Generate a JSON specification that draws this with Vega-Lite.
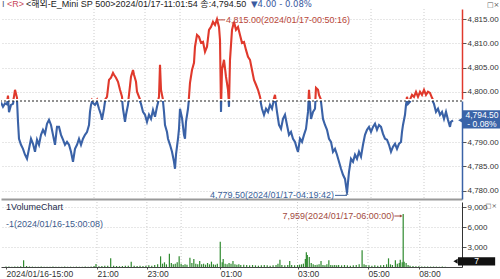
{
"$schema":"https://vega.github.io/schema/vega-lite/v6.json",
"padding":0,
"background":"white",
"spacing":0,
"config":{"view":{"stroke":null},"font":"Liberation Sans","axis":{"labelFont":"Liberation Sans","labelFontSize":8,"labelColor":"#333","labelOverlap":false}},
"datasets":{
"one":[{}],
"price":[{"n":0,"p":4798.2},{"n":2,"p":4797.3},{"n":4,"p":4798.0},{"n":6,"p":4797.8},{"n":7,"p":4799.2},{"n":8,"p":4796.2},{"n":10,"p":4797.7},{"n":12,"p":4797.9},{"n":13,"p":4799.0},{"n":14,"p":4800.4},{"n":16,"p":4798.75},{"n":17,"p":4794.2},{"n":18,"p":4790.7},{"n":20,"p":4789.45},{"n":22,"p":4788.6},{"n":24,"p":4787.4},{"n":26,"p":4786.55},{"n":28,"p":4788.6},{"n":30,"p":4790.7},{"n":32,"p":4789.65},{"n":34,"p":4788.0},{"n":36,"p":4790.5},{"n":38,"p":4789.45},{"n":40,"p":4791.5},{"n":42,"p":4792.55},{"n":44,"p":4791.7},{"n":46,"p":4793.8},{"n":48,"p":4794.6},{"n":50,"p":4793.55},{"n":52,"p":4791.5},{"n":54,"p":4789.45},{"n":56,"p":4793.15},{"n":58,"p":4793.15},{"n":60,"p":4791.5},{"n":62,"p":4790.5},{"n":64,"p":4789.45},{"n":66,"p":4790.05},{"n":68,"p":4789.45},{"n":70,"p":4788.0},{"n":72,"p":4785.95},{"n":74,"p":4788.6},{"n":76,"p":4789.45},{"n":78,"p":4790.7},{"n":80,"p":4789.45},{"n":82,"p":4790.7},{"n":84,"p":4791.5},{"n":86,"p":4792.1},{"n":88,"p":4793.55},{"n":89,"p":4796.25},{"n":90,"p":4797.7},{"n":91,"p":4798.35},{"n":93,"p":4797.9},{"n":94,"p":4797.7},{"n":96,"p":4798.35},{"n":98,"p":4796.9},{"n":100,"p":4795.65},{"n":101,"p":4794.6},{"n":103,"p":4796.9},{"n":104,"p":4798.35},{"n":106,"p":4798.95},{"n":108,"p":4802.45},{"n":110,"p":4802.9},{"n":112,"p":4803.9},{"n":113,"p":4803.5},{"n":115,"p":4802.9},{"n":117,"p":4802.05},{"n":119,"p":4800.4},{"n":121,"p":4798.95},{"n":122,"p":4796.9},{"n":124,"p":4794.2},{"n":125,"p":4795.65},{"n":127,"p":4797.7},{"n":128,"p":4799.35},{"n":130,"p":4803.1},{"n":132,"p":4804.5},{"n":133,"p":4803.5},{"n":135,"p":4802.05},{"n":136,"p":4800.0},{"n":138,"p":4798.95},{"n":140,"p":4797.9},{"n":142,"p":4796.25},{"n":144,"p":4795.65},{"n":146,"p":4794.2},{"n":148,"p":4795.65},{"n":150,"p":4794.8},{"n":152,"p":4796.65},{"n":154,"p":4795.25},{"n":156,"p":4797.3},{"n":158,"p":4798.95},{"n":159,"p":4805.55},{"n":160,"p":4800.4},{"n":161,"p":4799.35},{"n":162,"p":4798.35},{"n":163,"p":4796.25},{"n":164,"p":4793.55},{"n":166,"p":4792.1},{"n":167,"p":4790.7},{"n":169,"p":4789.45},{"n":171,"p":4788.0},{"n":173,"p":4785.95},{"n":174,"p":4784.5},{"n":175,"p":4787.4},{"n":177,"p":4790.7},{"n":178,"p":4792.75},{"n":179,"p":4796.9},{"n":181,"p":4795.0},{"n":183,"p":4791.5},{"n":184,"p":4790.7},{"n":185,"p":4794.2},{"n":187,"p":4796.9},{"n":188,"p":4798.95},{"n":189,"p":4801.85},{"n":191,"p":4804.5},{"n":193,"p":4806.0},{"n":194,"p":4809.3},{"n":196,"p":4811.75},{"n":198,"p":4811.35},{"n":200,"p":4810.1},{"n":202,"p":4810.3},{"n":204,"p":4808.25},{"n":206,"p":4809.3},{"n":208,"p":4812.8},{"n":210,"p":4813.4},{"n":212,"p":4814.44},{"n":214,"p":4813.8},{"n":216,"p":4815.0},{"n":218,"p":4813.4},{"n":219,"p":4810.7},{"n":220,"p":4796.25},{"n":221,"p":4804.5},{"n":223,"p":4806.6},{"n":225,"p":4803.1},{"n":227,"p":4800.4},{"n":228,"p":4797.3},{"n":229,"p":4806.6},{"n":231,"p":4812.8},{"n":233,"p":4814.44},{"n":235,"p":4812.8},{"n":237,"p":4813.4},{"n":239,"p":4811.75},{"n":241,"p":4810.1},{"n":243,"p":4810.3},{"n":245,"p":4808.65},{"n":247,"p":4807.2},{"n":249,"p":4806.6},{"n":251,"p":4804.5},{"n":253,"p":4802.45},{"n":255,"p":4801.45},{"n":257,"p":4800.4},{"n":259,"p":4798.95},{"n":261,"p":4796.9},{"n":263,"p":4795.65},{"n":265,"p":4796.9},{"n":267,"p":4796.25},{"n":269,"p":4797.7},{"n":271,"p":4796.9},{"n":272,"p":4797.9},{"n":274,"p":4799.35},{"n":276,"p":4796.25},{"n":278,"p":4793.55},{"n":280,"p":4792.75},{"n":282,"p":4794.8},{"n":284,"p":4795.65},{"n":286,"p":4793.55},{"n":288,"p":4791.5},{"n":290,"p":4792.1},{"n":292,"p":4790.7},{"n":294,"p":4790.05},{"n":296,"p":4788.6},{"n":297,"p":4788.0},{"n":299,"p":4790.7},{"n":301,"p":4790.05},{"n":303,"p":4791.5},{"n":305,"p":4792.75},{"n":307,"p":4796.25},{"n":308,"p":4800.4},{"n":309,"p":4797.7},{"n":310,"p":4794.8},{"n":312,"p":4796.25},{"n":314,"p":4796.9},{"n":315,"p":4800.8},{"n":317,"p":4800.4},{"n":318,"p":4799.35},{"n":320,"p":4798.35},{"n":322,"p":4794.8},{"n":324,"p":4793.55},{"n":326,"p":4792.55},{"n":328,"p":4790.7},{"n":330,"p":4790.05},{"n":332,"p":4788.0},{"n":334,"p":4788.6},{"n":336,"p":4787.4},{"n":338,"p":4785.95},{"n":340,"p":4784.5},{"n":342,"p":4783.25},{"n":344,"p":4782.4},{"n":346,"p":4779.5},{"n":348,"p":4783.85},{"n":350,"p":4786.55},{"n":352,"p":4785.95},{"n":354,"p":4787.4},{"n":356,"p":4786.55},{"n":358,"p":4788.0},{"n":360,"p":4787.0},{"n":362,"p":4789.45},{"n":364,"p":4791.5},{"n":366,"p":4792.55},{"n":368,"p":4793.15},{"n":370,"p":4792.1},{"n":372,"p":4793.15},{"n":374,"p":4793.8},{"n":376,"p":4792.55},{"n":378,"p":4793.55},{"n":380,"p":4793.15},{"n":382,"p":4791.7},{"n":384,"p":4790.7},{"n":386,"p":4790.5},{"n":388,"p":4789.45},{"n":390,"p":4788.0},{"n":392,"p":4789.05},{"n":394,"p":4789.65},{"n":396,"p":4788.6},{"n":398,"p":4789.65},{"n":400,"p":4790.05},{"n":401,"p":4792.1},{"n":402,"p":4793.55},{"n":404,"p":4795.65},{"n":405,"p":4797.7},{"n":406,"p":4798.95},{"n":407,"p":4797.9},{"n":409,"p":4798.35},{"n":411,"p":4799.35},{"n":413,"p":4798.95},{"n":415,"p":4800.0},{"n":417,"p":4798.95},{"n":419,"p":4800.0},{"n":421,"p":4799.35},{"n":423,"p":4800.4},{"n":425,"p":4799.35},{"n":427,"p":4800.0},{"n":429,"p":4799.75},{"n":431,"p":4798.75},{"n":433,"p":4797.9},{"n":435,"p":4796.25},{"n":437,"p":4796.9},{"n":439,"p":4795.65},{"n":441,"p":4796.25},{"n":443,"p":4794.8},{"n":445,"p":4796.25},{"n":447,"p":4794.6},{"n":449,"p":4793.15},{"n":450,"p":4794.2},{"n":452,"p":4794.5}],
"vol":[{"n":0,"v":80},{"n":3,"v":60},{"n":6,"v":50},{"n":9,"v":70},{"n":12,"v":90},{"n":15,"v":120},{"n":18,"v":1000},{"n":21,"v":150},{"n":24,"v":80},{"n":27,"v":60},{"n":30,"v":50},{"n":33,"v":40},{"n":36,"v":60},{"n":39,"v":50},{"n":42,"v":40},{"n":45,"v":50},{"n":48,"v":60},{"n":51,"v":40},{"n":54,"v":50},{"n":57,"v":40},{"n":60,"v":60},{"n":63,"v":40},{"n":66,"v":50},{"n":69,"v":40},{"n":72,"v":60},{"n":75,"v":50},{"n":78,"v":40},{"n":81,"v":60},{"n":84,"v":50},{"n":87,"v":80},{"n":90,"v":150},{"n":92,"v":450},{"n":95,"v":120},{"n":98,"v":150},{"n":101,"v":200},{"n":104,"v":180},{"n":107,"v":1300},{"n":110,"v":200},{"n":113,"v":150},{"n":116,"v":120},{"n":119,"v":150},{"n":122,"v":180},{"n":125,"v":200},{"n":128,"v":800},{"n":131,"v":200},{"n":134,"v":150},{"n":137,"v":180},{"n":140,"v":150},{"n":143,"v":200},{"n":146,"v":250},{"n":149,"v":200},{"n":152,"v":300},{"n":155,"v":400},{"n":158,"v":1600},{"n":160,"v":500},{"n":162,"v":700},{"n":164,"v":400},{"n":167,"v":2000},{"n":169,"v":600},{"n":171,"v":400},{"n":173,"v":500},{"n":175,"v":700},{"n":177,"v":1600},{"n":179,"v":500},{"n":181,"v":300},{"n":183,"v":400},{"n":185,"v":350},{"n":188,"v":1400},{"n":190,"v":600},{"n":192,"v":1200},{"n":194,"v":500},{"n":196,"v":400},{"n":198,"v":900},{"n":200,"v":400},{"n":202,"v":500},{"n":204,"v":350},{"n":206,"v":600},{"n":208,"v":400},{"n":210,"v":800},{"n":212,"v":400},{"n":214,"v":350},{"n":216,"v":500},{"n":219,"v":3800},{"n":221,"v":700},{"n":222,"v":1200},{"n":224,"v":500},{"n":226,"v":400},{"n":228,"v":600},{"n":230,"v":500},{"n":232,"v":900},{"n":234,"v":400},{"n":236,"v":350},{"n":238,"v":400},{"n":240,"v":300},{"n":243,"v":350},{"n":246,"v":300},{"n":249,"v":250},{"n":252,"v":300},{"n":255,"v":250},{"n":258,"v":200},{"n":261,"v":250},{"n":264,"v":300},{"n":267,"v":250},{"n":270,"v":200},{"n":273,"v":250},{"n":276,"v":300},{"n":278,"v":500},{"n":280,"v":1100},{"n":282,"v":300},{"n":285,"v":250},{"n":288,"v":300},{"n":290,"v":900},{"n":292,"v":300},{"n":295,"v":250},{"n":298,"v":300},{"n":300,"v":350},{"n":302,"v":400},{"n":304,"v":500},{"n":306,"v":1200},{"n":307,"v":2200},{"n":308,"v":1800},{"n":310,"v":1500},{"n":312,"v":600},{"n":314,"v":400},{"n":316,"v":300},{"n":318,"v":350},{"n":320,"v":400},{"n":322,"v":900},{"n":324,"v":300},{"n":326,"v":250},{"n":328,"v":400},{"n":330,"v":1000},{"n":332,"v":300},{"n":334,"v":250},{"n":336,"v":300},{"n":338,"v":250},{"n":340,"v":300},{"n":343,"v":250},{"n":346,"v":300},{"n":349,"v":250},{"n":352,"v":200},{"n":355,"v":250},{"n":358,"v":300},{"n":361,"v":400},{"n":364,"v":2500},{"n":366,"v":400},{"n":368,"v":300},{"n":371,"v":250},{"n":374,"v":200},{"n":377,"v":250},{"n":380,"v":200},{"n":383,"v":250},{"n":386,"v":300},{"n":389,"v":400},{"n":391,"v":1300},{"n":393,"v":400},{"n":395,"v":300},{"n":398,"v":1000},{"n":400,"v":500},{"n":402,"v":600},{"n":403,"v":1100},{"n":405,"v":700},{"n":406,"v":7959},{"n":407,"v":800},{"n":409,"v":600},{"n":411,"v":300},{"n":413,"v":200},{"n":416,"v":150},{"n":419,"v":120},{"n":422,"v":100},{"n":425,"v":90},{"n":428,"v":80},{"n":431,"v":70},{"n":434,"v":60},{"n":437,"v":70},{"n":440,"v":60},{"n":443,"v":50},{"n":446,"v":60},{"n":449,"v":50},{"n":452,"v":7}],
"vgrid":[{"n":93},{"n":144},{"n":179},{"n":298},{"n":370},{"n":423}]
},
"vconcat":[
{
"width":461,"height":90,
"layer":[
{"data":{"name":"vgrid"},"mark":{"type":"rule","color":"#cccccc","strokeDash":[1,2],"strokeWidth":1},"encoding":{"x":{"field":"n","type":"quantitative","scale":{"domain":[0,461],"nice":false,"zero":false},"axis":null}}},
{"data":{"name":"price"},"mark":{"type":"line","color":"#e0392c","strokeWidth":2.1,"clip":true},
 "encoding":{"x":{"field":"n","type":"quantitative","scale":{"domain":[0,461],"nice":false,"zero":false},"axis":null},"y":{"field":"p","type":"quantitative","scale":{"domain":[4798.5,4817.1],"nice":false,"zero":false},
 "axis":{"orient":"right","values":[4800,4805,4810,4815],"tickCount":20,"format":",.2f","title":null,"grid":true,"gridColor":"#cfcfcf","gridDash":[1,2],"domainColor":"#e0392c","domainWidth":1.5,"tickColor":"#555","tickSize":4,"labelPadding":1,"labelOverlap":false,"labelFlush":false,"labelBound":false}}}},
{"data":{"name":"one"},"mark":{"type":"rule","color":"#b8473a","strokeWidth":1},"encoding":{"x":{"datum":217},"x2":{"datum":224},"y":{"datum":4814.85}}},
{"data":{"name":"one"},"mark":{"type":"text","text":"4,815.00(2024/01/17-00:50:16)","align":"left","baseline":"middle","dx":9,"fontSize":9,"color":"#b8473a"},"encoding":{"x":{"datum":216},"y":{"datum":4814.85}}},
{"data":{"name":"one"},"mark":{"type":"text","text":"I","align":"left","baseline":"middle","fontSize":9,"color":"#4a5a7a"},"encoding":{"x":{"datum":1},"y":{"datum":4818.06}}},
{"data":{"name":"one"},"mark":{"type":"text","text":"<R>","align":"left","baseline":"middle","fontSize":9,"color":"#c8455a"},"encoding":{"x":{"datum":6},"y":{"datum":4818.06}}},
{"data":{"name":"one"},"mark":{"type":"text","text":"<해외-E_Mini SP 500>2024/01/17-11:01:54 종:4,794.50","font":"Liberation Sans, Noto Sans CJK KR","align":"left","baseline":"middle","fontSize":9,"color":"#222222"},"encoding":{"x":{"datum":25},"y":{"datum":4818.06}}},
{"data":{"name":"one"},"mark":{"type":"text","text":"▼4.00  - 0.08%","font":"DejaVu Sans","align":"left","baseline":"middle","fontSize":8.5,"color":"#3a5aa0"},"encoding":{"x":{"datum":250},"y":{"datum":4818.06}}},
{"data":{"name":"one"},"mark":{"type":"text","text":"□×","font":"DejaVu Sans","align":"left","baseline":"middle","fontSize":7,"color":"#555555"},"encoding":{"x":{"datum":486},"y":{"datum":4817.9}}}
]
},
{
"width":461,"height":98,
"layer":[
{"data":{"name":"vgrid"},"mark":{"type":"rule","color":"#cccccc","strokeDash":[1,2],"strokeWidth":1},"encoding":{"x":{"field":"n","type":"quantitative","scale":{"domain":[0,461],"nice":false,"zero":false},"axis":{"orient":"bottom","labels":false,"ticks":false,"grid":false,"title":null,"domainColor":"#9a9a9a","domainWidth":2}}}},
{"data":{"name":"price"},"mark":{"type":"line","color":"#3a62a7","strokeWidth":2.1,"clip":true},
 "encoding":{"x":{"field":"n","type":"quantitative","scale":{"domain":[0,461],"nice":false,"zero":false}},"y":{"field":"p","type":"quantitative","scale":{"domain":[4778.25,4798.5],"nice":false,"zero":false},
 "axis":{"orient":"right","values":[4780,4785,4790,4795],"tickCount":20,"format":",.2f","labelExpr":"datum.value==4795?'':datum.label","title":null,"grid":true,"gridColor":"#cfcfcf","gridDash":[1,2],"domainColor":"#3a62a7","domainWidth":1.5,"tickColor":"#555","tickSize":4,"labelPadding":1,"labelOverlap":false,"labelFlush":false,"labelBound":false}}}},
{"data":{"name":"one"},"mark":{"type":"rule","color":"#222222","strokeDash":[2,2],"strokeWidth":1},"encoding":{"y":{"datum":4798.5}}},
{"data":{"name":"one"},"mark":{"type":"rule","color":"#3a5f9a","strokeWidth":1},"encoding":{"x":{"datum":334},"x2":{"datum":346},"y":{"datum":4779.0}}},
{"data":{"name":"one"},"mark":{"type":"point","shape":"triangle-up","filled":true,"size":10,"opacity":1,"color":"#3a5f9a"},"encoding":{"x":{"datum":346},"y":{"datum":4779.4}}},
{"data":{"name":"one"},"mark":{"type":"text","text":"4,779.50(2024/01/17-04:19:42)","align":"right","baseline":"middle","dx":-13,"fontSize":9,"color":"#3a5f9a"},"encoding":{"x":{"datum":346},"y":{"datum":4779.0}}},
{"data":{"name":"one"},"mark":{"type":"rect","color":"#3a64a8"},"encoding":{"x":{"datum":462},"x2":{"datum":500},"y":{"datum":4796.6},"y2":{"datum":4792.8}}},
{"data":{"name":"one"},"mark":{"type":"point","shape":"triangle-left","filled":true,"size":30,"color":"#3a64a8","opacity":1},"encoding":{"x":{"datum":459.5},"y":{"datum":4794.5}}},
{"data":{"name":"one"},"mark":{"type":"text","text":"4,794.50","align":"center","baseline":"middle","fontSize":8.5,"color":"white"},"encoding":{"x":{"datum":481},"y":{"datum":4795.6}}},
{"data":{"name":"one"},"mark":{"type":"text","text":"- 0.08%","align":"center","baseline":"middle","fontSize":8.5,"color":"white"},"encoding":{"x":{"datum":481},"y":{"datum":4793.65}}}
]
},
{
"width":461,"height":65,
"layer":[
{"data":{"name":"vgrid"},"mark":{"type":"rule","color":"#cccccc","strokeDash":[1,2],"strokeWidth":1},"encoding":{"x":{"field":"n","type":"quantitative","scale":{"domain":[0,461],"nice":false,"zero":false},"axis":{"orient":"bottom","values":[0,93,144,219,298,370,422],"tickCount":20,"labelExpr":"datum.value==0?'2024/01/16-15:00':datum.value==93?'21:00':datum.value==144?'23:00':datum.value==219?'01:00':datum.value==298?'03:00':datum.value==370?'05:00':'08:00'","labelFontSize":8.5,"labelAlign":"left","labelPadding":0,"tickSize":2,"tickColor":"#555","grid":false,"title":null,"domainColor":"#444","labelFlush":false,"labelOverlap":false}}}},
{"data":{"name":"vol"},"mark":{"type":"bar","color":"#2f8a2f","size":1.2},
 "encoding":{"x":{"field":"n","type":"quantitative","scale":{"domain":[0,461],"nice":false,"zero":false}},"y":{"field":"v","type":"quantitative","scale":{"domain":[0,9750],"nice":false,"zero":true},
 "axis":{"orient":"right","values":[3000,6000,9000],"tickCount":20,"format":",d","title":null,"grid":true,"gridColor":"#cfcfcf","gridDash":[1,2],"domainColor":"#333","tickColor":"#555","tickSize":4,"labelPadding":1,"labelOverlap":false,"labelFlush":false,"labelBound":false}}}},
{"data":{"name":"one"},"mark":{"type":"text","text":"1VolumeChart","align":"left","baseline":"middle","fontSize":9,"color":"#1b2a4a"},"encoding":{"x":{"datum":0},"y":{"datum":9000}}},
{"data":{"name":"one"},"mark":{"type":"text","text":"-1(2024/01/16-15:00:08)","align":"left","baseline":"middle","fontSize":9,"color":"#3c5a8c"},"encoding":{"x":{"datum":0},"y":{"datum":6400}}},
{"data":{"name":"one"},"mark":{"type":"text","text":"□×","font":"DejaVu Sans","align":"left","baseline":"middle","fontSize":6.5,"color":"#555555"},"encoding":{"x":{"datum":490},"y":{"datum":9200}}},
{"data":{"name":"one"},"mark":{"type":"rule","color":"#a24a3e","strokeWidth":1},"encoding":{"x":{"datum":397},"x2":{"datum":404},"y":{"datum":7650}}},
{"data":{"name":"one"},"mark":{"type":"point","shape":"triangle-right","filled":true,"size":10,"opacity":1,"color":"#a24a3e"},"encoding":{"x":{"datum":404},"y":{"datum":7650}}},
{"data":{"name":"one"},"mark":{"type":"text","text":"7,959(2024/01/17-06:00:00)","align":"right","baseline":"middle","dx":-9,"fontSize":9,"color":"#a24a3e"},"encoding":{"x":{"datum":406},"y":{"datum":7650}}},
{"data":{"name":"one"},"mark":{"type":"rect","color":"#111111"},"encoding":{"x":{"datum":462},"x2":{"datum":500},"y":{"datum":1470},"y2":{"datum":225}}},
{"data":{"name":"one"},"mark":{"type":"point","shape":"triangle-left","filled":true,"size":25,"color":"#111111","opacity":1},"encoding":{"x":{"datum":459.5},"y":{"datum":855}}},
{"data":{"name":"one"},"mark":{"type":"text","text":"7","align":"center","baseline":"middle","fontSize":8.5,"color":"white"},"encoding":{"x":{"datum":481},"y":{"datum":855}}}
]
}
]
}
